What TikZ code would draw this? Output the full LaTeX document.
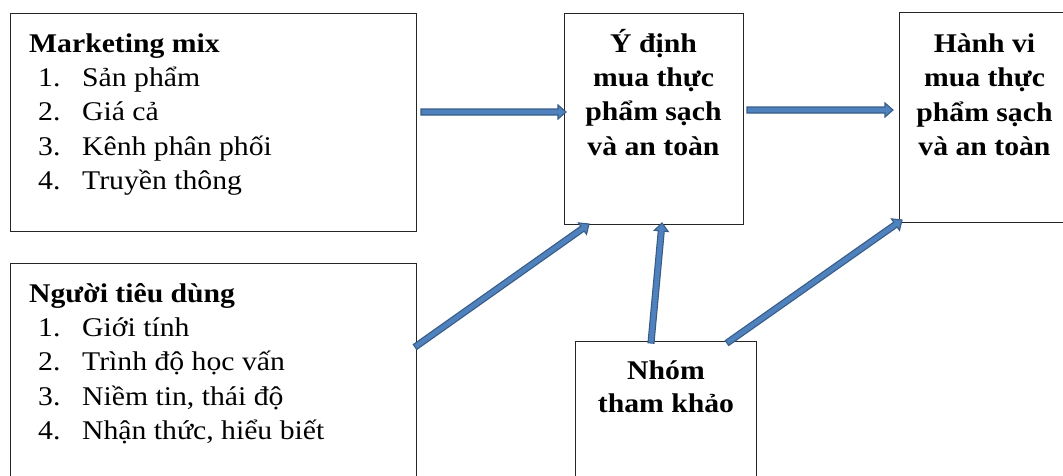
\documentclass[tikz,border=0pt]{standalone}
\usepackage{fontspec}
\setmainfont{Liberation Serif}[FakeStretch=1.1]
\usetikzlibrary{calc}
\definecolor{arrowfill}{HTML}{4F81BD}
\definecolor{arrowline}{HTML}{385D8A}
\newcommand{\blockarrow}[2]{%
  \path (#1) coordinate (baA) (#2) coordinate (baB);
  \path ($(baB)!8pt!(baA)$) coordinate (baH);
  \draw[blockarr] ($(baA)!3pt!-90:(baB)$) -- ($(baH)!3pt!-90:(baB)$) -- ($(baH)!7pt!-90:(baB)$)
    -- (baB) -- ($(baH)!7pt!90:(baB)$) -- ($(baH)!3pt!90:(baB)$) -- ($(baA)!3pt!90:(baB)$) -- cycle;
}
\tikzset{
  box/.style={draw=black!85, line width=1pt, inner sep=0pt, outer sep=0pt, anchor=north west},
  blockarr/.style={fill=arrowfill, draw=arrowline, line width=1.1pt, line join=miter},
  item/.style={anchor=base west, inner sep=0pt, font=\fontsize{27}{30}\selectfont},
  head/.style={anchor=base west, inner sep=0pt, font=\fontsize{27}{30}\selectfont\bfseries},
  ctext/.style={anchor=base, inner sep=0pt, font=\fontsize{27}{30}\selectfont\bfseries},
}
\newcommand{\itm}[2]{\makebox[44pt][l]{#1}#2}
\begin{document}
\begin{tikzpicture}[x=1pt,y=-1pt]
\useasboundingbox (0,0) rectangle (1063,475);
% boxes
\node[box, minimum width=406pt, minimum height=218pt] (mkt) at (10,13) {};
\node[box, minimum width=406pt, minimum height=217pt] (nguoi) at (10,263) {};
\node[box, minimum width=179pt, minimum height=211pt] (ydinh) at (564,13) {};
\node[box, minimum width=171pt, minimum height=210pt] (hanhvi) at (899,12) {};
\node[box, minimum width=180.5pt, minimum height=139pt] (nhom) at (575.5,341) {};
% marketing text
\node[head] (mkth) at (29,52) {Marketing mix};
\node[item] (mkt1) at (38,86) {\itm{1.}{Sản phẩm}};
\node[item] (mkt2) at (38,120.5) {\itm{2.}{Giá cả}};
\node[item] (mkt3) at (38,155) {\itm{3.}{Kênh phân phối}};
\node[item] (mkt4) at (38,189.5) {\itm{4.}{Truyền thông}};
% nguoi tieu dung text
\node[head] (ngh) at (29,302) {Người tiêu dùng};
\node[item] (ng1) at (38,336) {\itm{1.}{Giới tính}};
\node[item] (ng2) at (38,370.5) {\itm{2.}{Trình độ học vấn}};
\node[item] (ng3) at (38,405) {\itm{3.}{Niềm tin, thái độ}};
\node[item] (ng4) at (38,439.5) {\itm{4.}{Nhận thức, hiểu biết}};
% y dinh
\node[ctext] (yd1) at (653.5,52) {Ý định};
\node[ctext] (yd2) at (653.5,86) {mua thực};
\node[ctext] (yd3) at (653.5,120.5) {phẩm sạch};
\node[ctext] (yd4) at (653.5,155) {và an toàn};
% hanh vi
\node[ctext] (hv1) at (984.5,52.5) {Hành vi};
\node[ctext] (hv2) at (984.5,86.5) {mua thực};
\node[ctext] (hv3) at (984.5,121) {phẩm sạch};
\node[ctext] (hv4) at (984.5,155.5) {và an toàn};
% nhom
\node[ctext] (nh1) at (666,379) {Nhóm};
\node[ctext] (nh2) at (666,412.5) {tham khảo};
% arrows
\blockarrow{$(mkt.east)+(5,-10)$}{$(ydinh.west)+(2,-6.5)$}
\blockarrow{$(ydinh.east)+(4,-8.5)$}{$(hanhvi.west)+(-6,-7)$}
\blockarrow{$(nguoi.east)+(-1,-24.5)$}{$(ydinh.south)+(-64.5,0)$}
\blockarrow{$(nhom.north)+(-14.75,2)$}{$(ydinh.south)+(8.5,-1)$}
\blockarrow{$(nhom.north)+(61.25,2)$}{$(hanhvi.south west)+(3,-2)$}
\end{tikzpicture}
\end{document}
